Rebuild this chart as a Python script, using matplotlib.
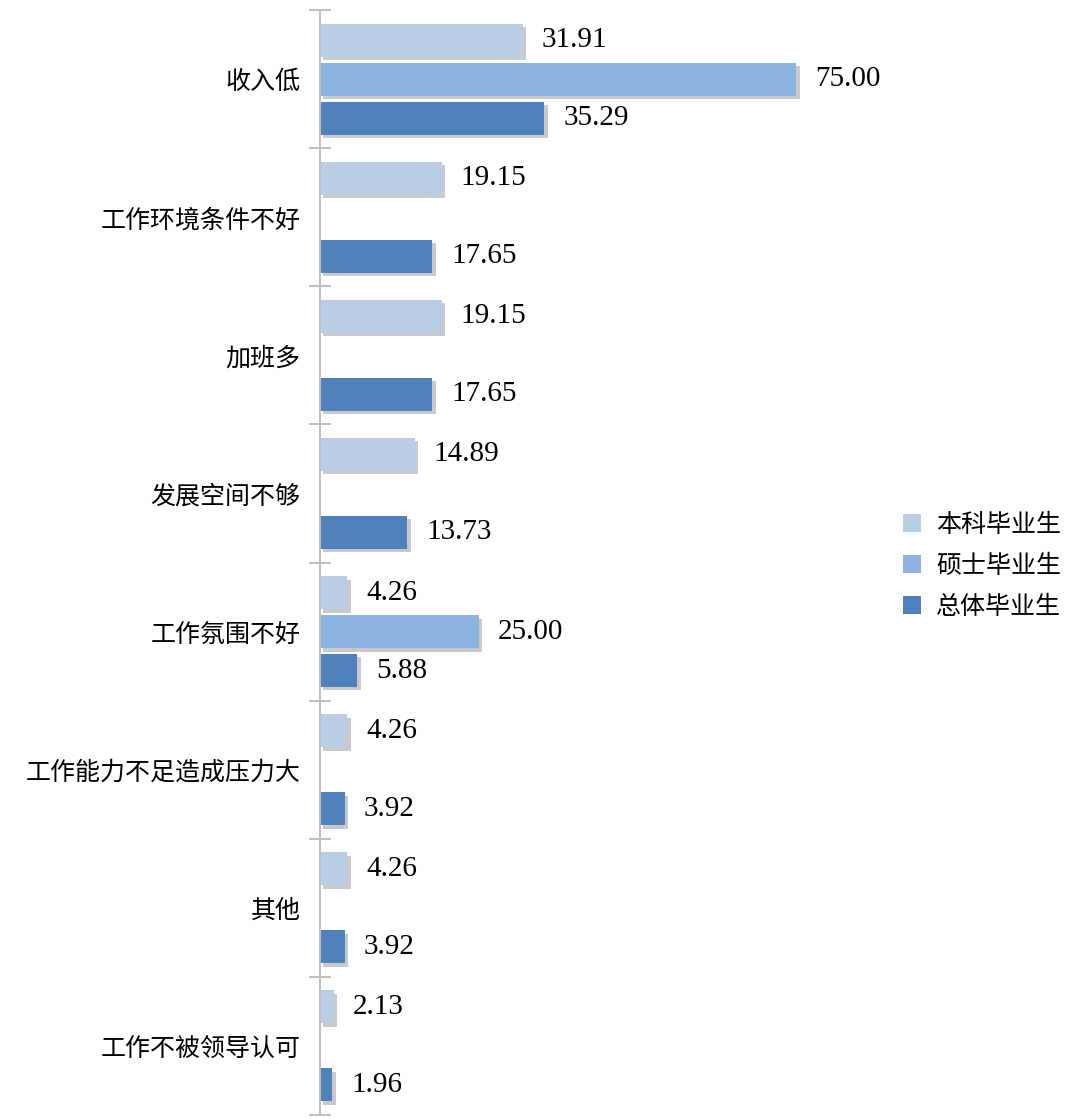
import numpy as np
import matplotlib
matplotlib.use("Agg")
import matplotlib.pyplot as plt
import matplotlib.patheffects as pe
from matplotlib.patches import Patch

categories = ["收入低", "工作环境条件不好", "加班多", "发展空间不够",
              "工作氛围不好", "工作能力不足造成压力大", "其他", "工作不被领导认可"]
series_names = ["本科毕业生", "硕士毕业生", "总体毕业生"]
undergrad = [31.91, 19.15, 19.15, 14.89, 4.26, 4.26, 4.26, 2.13]
master = [75.00, 0, 0, 0, 25.00, 0, 0, 0]
overall = [35.29, 17.65, 17.65, 13.73, 5.88, 3.92, 3.92, 1.96]
colors = ["#B9CDE5", "#8DB3E2", "#4F81BD"]

plt.rcParams['font.family'] = ['Noto Sans CJK SC', 'DejaVu Sans']

fig = plt.figure(figsize=(10.73, 11.19), dpi=100)
ax = fig.add_axes([320 / 1073, 4 / 1119, 540 / 1073, 1105 / 1119])

y = np.arange(len(categories))
step = 0.282
height = 0.239
shadow = [pe.SimplePatchShadow(offset=(2.5, -2.5), shadow_rgbFace="#666666", alpha=0.35), pe.Normal()]

for k, vals in enumerate([undergrad, master, overall]):
    pos = y + (k - 1) * step
    bars = ax.barh(pos, vals, height=height, color=colors[k], linewidth=0)
    for b, v in zip(bars, vals):
        if v > 0:
            b.set_path_effects(shadow)
            ax.text(v + 3.0, b.get_y() + b.get_height() / 2, f"{v:.2f}",
                    va="center", ha="left", fontsize=21, family="Liberation Serif")
        else:
            b.set_visible(False)

ax.set_xlim(0, 85)
ax.set_ylim(len(categories) - 0.5, -0.5)

# category boundaries as major ticks, names as minor ticks
ax.set_yticks(np.arange(-0.5, len(categories), 1.0))
ax.set_yticklabels([])
ax.set_yticks(y, minor=True)
ax.set_yticklabels(categories, minor=True, fontsize=18)
ax.tick_params(axis="y", which="major", direction="inout", length=16, width=1.4, color="#BFBFBF")
ax.tick_params(axis="y", which="minor", length=0, pad=14)

ax.set_xticks([])
for s in ["top", "right", "bottom"]:
    ax.spines[s].set_visible(False)
ax.spines["left"].set_color("#BFBFBF")
ax.spines["left"].set_linewidth(1.4)

handles = [Patch(facecolor=c, edgecolor="none", label=n) for c, n in zip(colors, series_names)]
ax.legend(handles=handles, loc="center left", bbox_to_anchor=(561 / 540, 0.497), frameon=False,
          fontsize=18, handlelength=0.7, handleheight=0.7, handletextpad=0.6,
          labelspacing=0.6)

fig.savefig("out.png", dpi=100)
